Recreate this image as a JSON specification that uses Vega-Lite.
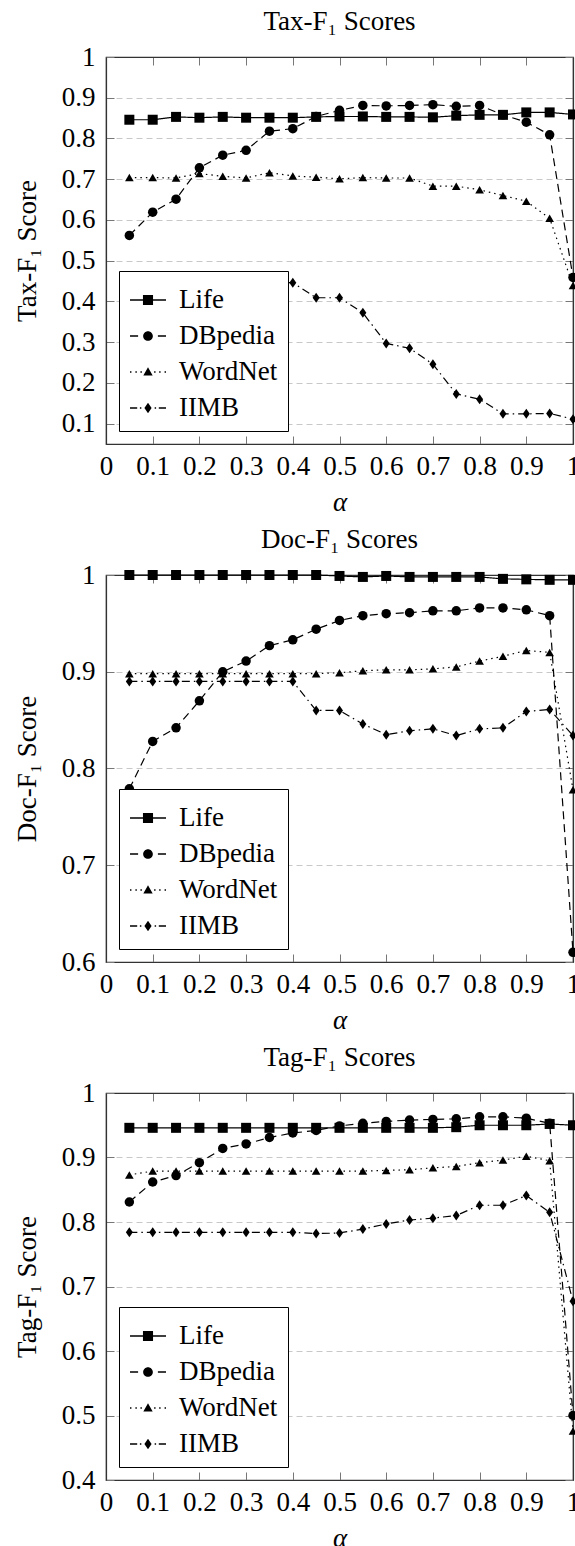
{
  "$schema": "https://vega.github.io/schema/vega-lite/v6.json",
  "padding": {"left": 12, "top": 7, "right": 0, "bottom": 0},
  "spacing": 9,
  "resolve": {"legend": {"strokeDash": "independent", "shape": "independent"}, "scale": {"x": "independent", "y": "independent", "strokeDash": "independent", "shape": "independent"}},
  "datasets": {
    "tax": [
      {"a":0.05,"s":"Life","v":0.846},{"a":0.1,"s":"Life","v":0.846},{"a":0.15,"s":"Life","v":0.853},{"a":0.2,"s":"Life","v":0.851},{"a":0.25,"s":"Life","v":0.853},{"a":0.3,"s":"Life","v":0.851},{"a":0.35,"s":"Life","v":0.851},{"a":0.4,"s":"Life","v":0.851},{"a":0.45,"s":"Life","v":0.853},{"a":0.5,"s":"Life","v":0.854},{"a":0.55,"s":"Life","v":0.854},{"a":0.6,"s":"Life","v":0.853},{"a":0.65,"s":"Life","v":0.853},{"a":0.7,"s":"Life","v":0.852},{"a":0.75,"s":"Life","v":0.856},{"a":0.8,"s":"Life","v":0.858},{"a":0.85,"s":"Life","v":0.858},{"a":0.9,"s":"Life","v":0.864},{"a":0.95,"s":"Life","v":0.864},{"a":1,"s":"Life","v":0.859},
      {"a":0.05,"s":"DBpedia","v":0.562},{"a":0.1,"s":"DBpedia","v":0.619},{"a":0.15,"s":"DBpedia","v":0.651},{"a":0.2,"s":"DBpedia","v":0.728},{"a":0.25,"s":"DBpedia","v":0.759},{"a":0.3,"s":"DBpedia","v":0.771},{"a":0.35,"s":"DBpedia","v":0.818},{"a":0.4,"s":"DBpedia","v":0.824},{"a":0.45,"s":"DBpedia","v":0.854},{"a":0.5,"s":"DBpedia","v":0.869},{"a":0.55,"s":"DBpedia","v":0.881},{"a":0.6,"s":"DBpedia","v":0.880},{"a":0.65,"s":"DBpedia","v":0.881},{"a":0.7,"s":"DBpedia","v":0.883},{"a":0.75,"s":"DBpedia","v":0.879},{"a":0.8,"s":"DBpedia","v":0.881},{"a":0.85,"s":"DBpedia","v":0.858},{"a":0.9,"s":"DBpedia","v":0.840},{"a":0.95,"s":"DBpedia","v":0.809},{"a":1,"s":"DBpedia","v":0.459},
      {"a":0.05,"s":"WordNet","v":0.704},{"a":0.1,"s":"WordNet","v":0.704},{"a":0.15,"s":"WordNet","v":0.703},{"a":0.2,"s":"WordNet","v":0.714},{"a":0.25,"s":"WordNet","v":0.707},{"a":0.3,"s":"WordNet","v":0.703},{"a":0.35,"s":"WordNet","v":0.716},{"a":0.4,"s":"WordNet","v":0.708},{"a":0.45,"s":"WordNet","v":0.705},{"a":0.5,"s":"WordNet","v":0.701},{"a":0.55,"s":"WordNet","v":0.704},{"a":0.6,"s":"WordNet","v":0.703},{"a":0.65,"s":"WordNet","v":0.703},{"a":0.7,"s":"WordNet","v":0.683},{"a":0.75,"s":"WordNet","v":0.683},{"a":0.8,"s":"WordNet","v":0.674},{"a":0.85,"s":"WordNet","v":0.660},{"a":0.9,"s":"WordNet","v":0.646},{"a":0.95,"s":"WordNet","v":0.604},{"a":1,"s":"WordNet","v":0.439},
      {"a":0.05,"s":"IIMB","v":0.446},{"a":0.1,"s":"IIMB","v":0.446},{"a":0.15,"s":"IIMB","v":0.446},{"a":0.2,"s":"IIMB","v":0.446},{"a":0.25,"s":"IIMB","v":0.446},{"a":0.3,"s":"IIMB","v":0.446},{"a":0.35,"s":"IIMB","v":0.446},{"a":0.4,"s":"IIMB","v":0.446},{"a":0.45,"s":"IIMB","v":0.409},{"a":0.5,"s":"IIMB","v":0.409},{"a":0.55,"s":"IIMB","v":0.372},{"a":0.6,"s":"IIMB","v":0.297},{"a":0.65,"s":"IIMB","v":0.285},{"a":0.7,"s":"IIMB","v":0.246},{"a":0.75,"s":"IIMB","v":0.173},{"a":0.8,"s":"IIMB","v":0.160},{"a":0.85,"s":"IIMB","v":0.124},{"a":0.9,"s":"IIMB","v":0.124},{"a":0.95,"s":"IIMB","v":0.125},{"a":1,"s":"IIMB","v":0.111}
    ],
    "doc": [
      {"a":0.05,"s":"Life","v":1.0},{"a":0.1,"s":"Life","v":1.0},{"a":0.15,"s":"Life","v":1.0},{"a":0.2,"s":"Life","v":1.0},{"a":0.25,"s":"Life","v":1.0},{"a":0.3,"s":"Life","v":1.0},{"a":0.35,"s":"Life","v":1.0},{"a":0.4,"s":"Life","v":1.0},{"a":0.45,"s":"Life","v":1.0},{"a":0.5,"s":"Life","v":0.999},{"a":0.55,"s":"Life","v":0.998},{"a":0.6,"s":"Life","v":0.999},{"a":0.65,"s":"Life","v":0.998},{"a":0.7,"s":"Life","v":0.998},{"a":0.75,"s":"Life","v":0.998},{"a":0.8,"s":"Life","v":0.998},{"a":0.85,"s":"Life","v":0.996},{"a":0.9,"s":"Life","v":0.9955},{"a":0.95,"s":"Life","v":0.995},{"a":1,"s":"Life","v":0.995},
      {"a":0.05,"s":"DBpedia","v":0.779},{"a":0.1,"s":"DBpedia","v":0.828},{"a":0.15,"s":"DBpedia","v":0.842},{"a":0.2,"s":"DBpedia","v":0.870},{"a":0.25,"s":"DBpedia","v":0.900},{"a":0.3,"s":"DBpedia","v":0.911},{"a":0.35,"s":"DBpedia","v":0.927},{"a":0.4,"s":"DBpedia","v":0.933},{"a":0.45,"s":"DBpedia","v":0.944},{"a":0.5,"s":"DBpedia","v":0.953},{"a":0.55,"s":"DBpedia","v":0.958},{"a":0.6,"s":"DBpedia","v":0.960},{"a":0.65,"s":"DBpedia","v":0.961},{"a":0.7,"s":"DBpedia","v":0.963},{"a":0.75,"s":"DBpedia","v":0.963},{"a":0.8,"s":"DBpedia","v":0.966},{"a":0.85,"s":"DBpedia","v":0.966},{"a":0.9,"s":"DBpedia","v":0.964},{"a":0.95,"s":"DBpedia","v":0.958},{"a":1,"s":"DBpedia","v":0.610},
      {"a":0.05,"s":"WordNet","v":0.898},{"a":0.1,"s":"WordNet","v":0.898},{"a":0.15,"s":"WordNet","v":0.898},{"a":0.2,"s":"WordNet","v":0.898},{"a":0.25,"s":"WordNet","v":0.898},{"a":0.3,"s":"WordNet","v":0.898},{"a":0.35,"s":"WordNet","v":0.898},{"a":0.4,"s":"WordNet","v":0.898},{"a":0.45,"s":"WordNet","v":0.898},{"a":0.5,"s":"WordNet","v":0.899},{"a":0.55,"s":"WordNet","v":0.901},{"a":0.6,"s":"WordNet","v":0.902},{"a":0.65,"s":"WordNet","v":0.902},{"a":0.7,"s":"WordNet","v":0.903},{"a":0.75,"s":"WordNet","v":0.905},{"a":0.8,"s":"WordNet","v":0.911},{"a":0.85,"s":"WordNet","v":0.916},{"a":0.9,"s":"WordNet","v":0.922},{"a":0.95,"s":"WordNet","v":0.920},{"a":1,"s":"WordNet","v":0.778},
      {"a":0.05,"s":"IIMB","v":0.890},{"a":0.1,"s":"IIMB","v":0.890},{"a":0.15,"s":"IIMB","v":0.890},{"a":0.2,"s":"IIMB","v":0.890},{"a":0.25,"s":"IIMB","v":0.890},{"a":0.3,"s":"IIMB","v":0.890},{"a":0.35,"s":"IIMB","v":0.890},{"a":0.4,"s":"IIMB","v":0.890},{"a":0.45,"s":"IIMB","v":0.860},{"a":0.5,"s":"IIMB","v":0.860},{"a":0.55,"s":"IIMB","v":0.846},{"a":0.6,"s":"IIMB","v":0.835},{"a":0.65,"s":"IIMB","v":0.839},{"a":0.7,"s":"IIMB","v":0.841},{"a":0.75,"s":"IIMB","v":0.834},{"a":0.8,"s":"IIMB","v":0.841},{"a":0.85,"s":"IIMB","v":0.842},{"a":0.9,"s":"IIMB","v":0.859},{"a":0.95,"s":"IIMB","v":0.861},{"a":1,"s":"IIMB","v":0.834}
    ],
    "tag": [
      {"a":0.05,"s":"Life","v":0.946},{"a":0.1,"s":"Life","v":0.946},{"a":0.15,"s":"Life","v":0.946},{"a":0.2,"s":"Life","v":0.946},{"a":0.25,"s":"Life","v":0.946},{"a":0.3,"s":"Life","v":0.946},{"a":0.35,"s":"Life","v":0.946},{"a":0.4,"s":"Life","v":0.946},{"a":0.45,"s":"Life","v":0.946},{"a":0.5,"s":"Life","v":0.946},{"a":0.55,"s":"Life","v":0.946},{"a":0.6,"s":"Life","v":0.946},{"a":0.65,"s":"Life","v":0.946},{"a":0.7,"s":"Life","v":0.946},{"a":0.75,"s":"Life","v":0.947},{"a":0.8,"s":"Life","v":0.950},{"a":0.85,"s":"Life","v":0.950},{"a":0.9,"s":"Life","v":0.950},{"a":0.95,"s":"Life","v":0.952},{"a":1,"s":"Life","v":0.950},
      {"a":0.05,"s":"DBpedia","v":0.831},{"a":0.1,"s":"DBpedia","v":0.862},{"a":0.15,"s":"DBpedia","v":0.872},{"a":0.2,"s":"DBpedia","v":0.892},{"a":0.25,"s":"DBpedia","v":0.914},{"a":0.3,"s":"DBpedia","v":0.921},{"a":0.35,"s":"DBpedia","v":0.931},{"a":0.4,"s":"DBpedia","v":0.938},{"a":0.45,"s":"DBpedia","v":0.942},{"a":0.5,"s":"DBpedia","v":0.949},{"a":0.55,"s":"DBpedia","v":0.953},{"a":0.6,"s":"DBpedia","v":0.956},{"a":0.65,"s":"DBpedia","v":0.958},{"a":0.7,"s":"DBpedia","v":0.959},{"a":0.75,"s":"DBpedia","v":0.960},{"a":0.8,"s":"DBpedia","v":0.963},{"a":0.85,"s":"DBpedia","v":0.963},{"a":0.9,"s":"DBpedia","v":0.961},{"a":0.95,"s":"DBpedia","v":0.953},{"a":1,"s":"DBpedia","v":0.500},
      {"a":0.05,"s":"WordNet","v":0.873},{"a":0.1,"s":"WordNet","v":0.879},{"a":0.15,"s":"WordNet","v":0.879},{"a":0.2,"s":"WordNet","v":0.879},{"a":0.25,"s":"WordNet","v":0.879},{"a":0.3,"s":"WordNet","v":0.879},{"a":0.35,"s":"WordNet","v":0.879},{"a":0.4,"s":"WordNet","v":0.879},{"a":0.45,"s":"WordNet","v":0.879},{"a":0.5,"s":"WordNet","v":0.879},{"a":0.55,"s":"WordNet","v":0.879},{"a":0.6,"s":"WordNet","v":0.880},{"a":0.65,"s":"WordNet","v":0.881},{"a":0.7,"s":"WordNet","v":0.884},{"a":0.75,"s":"WordNet","v":0.886},{"a":0.8,"s":"WordNet","v":0.892},{"a":0.85,"s":"WordNet","v":0.896},{"a":0.9,"s":"WordNet","v":0.902},{"a":0.95,"s":"WordNet","v":0.895},{"a":1,"s":"WordNet","v":0.476},
      {"a":0.05,"s":"IIMB","v":0.784},{"a":0.1,"s":"IIMB","v":0.784},{"a":0.15,"s":"IIMB","v":0.784},{"a":0.2,"s":"IIMB","v":0.784},{"a":0.25,"s":"IIMB","v":0.784},{"a":0.3,"s":"IIMB","v":0.784},{"a":0.35,"s":"IIMB","v":0.784},{"a":0.4,"s":"IIMB","v":0.784},{"a":0.45,"s":"IIMB","v":0.782},{"a":0.5,"s":"IIMB","v":0.783},{"a":0.55,"s":"IIMB","v":0.789},{"a":0.6,"s":"IIMB","v":0.797},{"a":0.65,"s":"IIMB","v":0.803},{"a":0.7,"s":"IIMB","v":0.806},{"a":0.75,"s":"IIMB","v":0.810},{"a":0.8,"s":"IIMB","v":0.826},{"a":0.85,"s":"IIMB","v":0.826},{"a":0.9,"s":"IIMB","v":0.841},{"a":0.95,"s":"IIMB","v":0.815},{"a":1,"s":"IIMB","v":0.677}
    ]
  },
  "vconcat": [
    {
      "title": "Tax-F₁ Scores",
      "width": 467, "height": 387,
      "data": {"name": "tax"},
      "layer": [
        {
          "mark": {"type": "line", "color": "black", "strokeWidth": 1.2},
          "encoding": {
            "x": {"field": "a", "type": "quantitative", "scale": {"domain": [0, 1], "nice": false}, "axis": {"orient": "bottom", "values": [0,0.1,0.2,0.3,0.4,0.5,0.6,0.7,0.8,0.9,1], "format": "~g", "title": "α", "titleFontStyle": "italic", "grid": false}},
            "y": {"field": "v", "type": "quantitative", "scale": {"domain": [0.05, 1], "nice": false, "zero": false}, "axis": {"orient": "left", "values": [0.1,0.2,0.3,0.4,0.5,0.6,0.7,0.8,0.9,1], "format": "~g", "title": "Tax-F₁ Score", "grid": true}},
            "strokeDash": {"field": "s", "type": "nominal", "scale": {"domain": ["Life","DBpedia","WordNet","IIMB"], "range": [[1,0],[8,5],[1.5,4],[8,4,1.5,4]]}, "legend": {"title": null}}
          }
        },
        {"transform": [{"filter": "datum.s === 'Life'"}], "mark": {"type": "point", "shape": "square", "filled": true, "color": "black", "opacity": 1, "size": 100},
          "encoding": {"x": {"field": "a", "type": "quantitative", "scale": {"domain": [0, 1], "nice": false}, "axis": null}, "y": {"field": "v", "type": "quantitative", "scale": {"domain": [0.05, 1], "nice": false, "zero": false}, "axis": null}}},
        {"transform": [{"filter": "datum.s === 'DBpedia'"}], "mark": {"type": "point", "shape": "circle", "filled": true, "color": "black", "opacity": 1, "size": 90},
          "encoding": {"x": {"field": "a", "type": "quantitative", "scale": {"domain": [0, 1], "nice": false}, "axis": null}, "y": {"field": "v", "type": "quantitative", "scale": {"domain": [0.05, 1], "nice": false, "zero": false}, "axis": null}}},
        {"transform": [{"filter": "datum.s === 'WordNet'"}], "mark": {"type": "point", "shape": "triangle-up", "filled": true, "color": "black", "opacity": 1, "size": 75},
          "encoding": {"x": {"field": "a", "type": "quantitative", "scale": {"domain": [0, 1], "nice": false}, "axis": null}, "y": {"field": "v", "type": "quantitative", "scale": {"domain": [0.05, 1], "nice": false, "zero": false}, "axis": null}}},
        {"transform": [{"filter": "datum.s === 'IIMB'"}], "mark": {"type": "point", "shape": "M0,-1L0.7,0L0,1L-0.7,0Z", "filled": true, "color": "black", "opacity": 1, "size": 100},
          "encoding": {"x": {"field": "a", "type": "quantitative", "scale": {"domain": [0, 1], "nice": false}, "axis": null}, "y": {"field": "v", "type": "quantitative", "scale": {"domain": [0.05, 1], "nice": false, "zero": false}, "axis": null}}},
        {
          "mark": {"type": "point", "filled": true, "fill": "black", "stroke": "black", "strokeWidth": 1.2, "opacity": 0, "size": 1296},
          "encoding": {
            "x": {"field": "a", "type": "quantitative", "scale": {"domain": [0, 1], "nice": false}, "axis": {"orient": "top", "values": [0,0.1,0.2,0.3,0.4,0.5,0.6,0.7,0.8,0.9,1], "labels": false, "title": null, "grid": false}},
            "y": {"field": "v", "type": "quantitative", "scale": {"domain": [0.05, 1], "nice": false, "zero": false}, "axis": {"orient": "right", "values": [0.1,0.2,0.3,0.4,0.5,0.6,0.7,0.8,0.9,1], "labels": false, "title": null, "grid": false}},
            "shape": {"field": "s", "type": "nominal", "scale": {"domain": ["Life","DBpedia","WordNet","IIMB"], "range": ["M-1,-0.035H1V0.035H-1ZM-0.28,-0.28H0.28V0.28H-0.28Z", "M-1,-0.035H-0.55V0.035H-1ZM0.55,-0.035H1V0.035H0.55ZM0.27,0A0.27,0.27,0,1,1,-0.27,0A0.27,0.27,0,1,1,0.27,0Z", "M-1,-0.04H-0.92V0.04H-1ZM-0.7,-0.04H-0.62V0.04H-0.7ZM-0.42,-0.04H-0.34V0.04H-0.42ZM0.34,-0.04H0.42V0.04H0.34ZM0.62,-0.04H0.7V0.04H0.62ZM0.92,-0.04H1V0.04H0.92ZM0,-0.26L0.26,0.19L-0.26,0.19Z", "M-1,-0.035H-0.6V0.035H-1ZM-0.45,-0.035H-0.37V0.035H-0.45ZM0.37,-0.035H0.45V0.035H0.37ZM0.6,-0.035H1V0.035H0.6ZM0,-0.29L0.2,0L0,0.29L-0.2,0Z"]}, "legend": {"title": null}}
          }
        }
      ],
      "resolve": {"axis": {"x": "independent", "y": "independent"}}
    },
    {
      "title": "Doc-F₁ Scores",
      "width": 467, "height": 387,
      "data": {"name": "doc"},
      "layer": [
        {
          "mark": {"type": "line", "color": "black", "strokeWidth": 1.2},
          "encoding": {
            "x": {"field": "a", "type": "quantitative", "scale": {"domain": [0, 1], "nice": false}, "axis": {"orient": "bottom", "values": [0,0.1,0.2,0.3,0.4,0.5,0.6,0.7,0.8,0.9,1], "format": "~g", "title": "α", "titleFontStyle": "italic", "grid": false}},
            "y": {"field": "v", "type": "quantitative", "scale": {"domain": [0.6, 1], "nice": false, "zero": false}, "axis": {"orient": "left", "values": [0.6,0.7,0.8,0.9,1], "format": "~g", "title": "Doc-F₁ Score", "grid": true}},
            "strokeDash": {"field": "s", "type": "nominal", "scale": {"domain": ["Life","DBpedia","WordNet","IIMB"], "range": [[1,0],[8,5],[1.5,4],[8,4,1.5,4]]}, "legend": {"title": null}}
          }
        },
        {"transform": [{"filter": "datum.s === 'Life'"}], "mark": {"type": "point", "shape": "square", "filled": true, "color": "black", "opacity": 1, "size": 100},
          "encoding": {"x": {"field": "a", "type": "quantitative", "scale": {"domain": [0, 1], "nice": false}, "axis": null}, "y": {"field": "v", "type": "quantitative", "scale": {"domain": [0.6, 1], "nice": false, "zero": false}, "axis": null}}},
        {"transform": [{"filter": "datum.s === 'DBpedia'"}], "mark": {"type": "point", "shape": "circle", "filled": true, "color": "black", "opacity": 1, "size": 90},
          "encoding": {"x": {"field": "a", "type": "quantitative", "scale": {"domain": [0, 1], "nice": false}, "axis": null}, "y": {"field": "v", "type": "quantitative", "scale": {"domain": [0.6, 1], "nice": false, "zero": false}, "axis": null}}},
        {"transform": [{"filter": "datum.s === 'WordNet'"}], "mark": {"type": "point", "shape": "triangle-up", "filled": true, "color": "black", "opacity": 1, "size": 75},
          "encoding": {"x": {"field": "a", "type": "quantitative", "scale": {"domain": [0, 1], "nice": false}, "axis": null}, "y": {"field": "v", "type": "quantitative", "scale": {"domain": [0.6, 1], "nice": false, "zero": false}, "axis": null}}},
        {"transform": [{"filter": "datum.s === 'IIMB'"}], "mark": {"type": "point", "shape": "M0,-1L0.7,0L0,1L-0.7,0Z", "filled": true, "color": "black", "opacity": 1, "size": 100},
          "encoding": {"x": {"field": "a", "type": "quantitative", "scale": {"domain": [0, 1], "nice": false}, "axis": null}, "y": {"field": "v", "type": "quantitative", "scale": {"domain": [0.6, 1], "nice": false, "zero": false}, "axis": null}}},
        {
          "mark": {"type": "point", "filled": true, "fill": "black", "stroke": "black", "strokeWidth": 1.2, "opacity": 0, "size": 1296},
          "encoding": {
            "x": {"field": "a", "type": "quantitative", "scale": {"domain": [0, 1], "nice": false}, "axis": {"orient": "top", "values": [0,0.1,0.2,0.3,0.4,0.5,0.6,0.7,0.8,0.9,1], "labels": false, "title": null, "grid": false}},
            "y": {"field": "v", "type": "quantitative", "scale": {"domain": [0.6, 1], "nice": false, "zero": false}, "axis": {"orient": "right", "values": [0.6,0.7,0.8,0.9,1], "labels": false, "title": null, "grid": false}},
            "shape": {"field": "s", "type": "nominal", "scale": {"domain": ["Life","DBpedia","WordNet","IIMB"], "range": ["M-1,-0.035H1V0.035H-1ZM-0.28,-0.28H0.28V0.28H-0.28Z", "M-1,-0.035H-0.55V0.035H-1ZM0.55,-0.035H1V0.035H0.55ZM0.27,0A0.27,0.27,0,1,1,-0.27,0A0.27,0.27,0,1,1,0.27,0Z", "M-1,-0.04H-0.92V0.04H-1ZM-0.7,-0.04H-0.62V0.04H-0.7ZM-0.42,-0.04H-0.34V0.04H-0.42ZM0.34,-0.04H0.42V0.04H0.34ZM0.62,-0.04H0.7V0.04H0.62ZM0.92,-0.04H1V0.04H0.92ZM0,-0.26L0.26,0.19L-0.26,0.19Z", "M-1,-0.035H-0.6V0.035H-1ZM-0.45,-0.035H-0.37V0.035H-0.45ZM0.37,-0.035H0.45V0.035H0.37ZM0.6,-0.035H1V0.035H0.6ZM0,-0.29L0.2,0L0,0.29L-0.2,0Z"]}, "legend": {"title": null}}
          }
        }
      ],
      "resolve": {"axis": {"x": "independent", "y": "independent"}}
    },
    {
      "title": "Tag-F₁ Scores",
      "width": 467, "height": 387,
      "data": {"name": "tag"},
      "layer": [
        {
          "mark": {"type": "line", "color": "black", "strokeWidth": 1.2},
          "encoding": {
            "x": {"field": "a", "type": "quantitative", "scale": {"domain": [0, 1], "nice": false}, "axis": {"orient": "bottom", "values": [0,0.1,0.2,0.3,0.4,0.5,0.6,0.7,0.8,0.9,1], "format": "~g", "title": "α", "titleFontStyle": "italic", "grid": false}},
            "y": {"field": "v", "type": "quantitative", "scale": {"domain": [0.4, 1], "nice": false, "zero": false}, "axis": {"orient": "left", "values": [0.4,0.5,0.6,0.7,0.8,0.9,1], "format": "~g", "title": "Tag-F₁ Score", "grid": true}},
            "strokeDash": {"field": "s", "type": "nominal", "scale": {"domain": ["Life","DBpedia","WordNet","IIMB"], "range": [[1,0],[8,5],[1.5,4],[8,4,1.5,4]]}, "legend": {"title": null}}
          }
        },
        {"transform": [{"filter": "datum.s === 'Life'"}], "mark": {"type": "point", "shape": "square", "filled": true, "color": "black", "opacity": 1, "size": 100},
          "encoding": {"x": {"field": "a", "type": "quantitative", "scale": {"domain": [0, 1], "nice": false}, "axis": null}, "y": {"field": "v", "type": "quantitative", "scale": {"domain": [0.4, 1], "nice": false, "zero": false}, "axis": null}}},
        {"transform": [{"filter": "datum.s === 'DBpedia'"}], "mark": {"type": "point", "shape": "circle", "filled": true, "color": "black", "opacity": 1, "size": 90},
          "encoding": {"x": {"field": "a", "type": "quantitative", "scale": {"domain": [0, 1], "nice": false}, "axis": null}, "y": {"field": "v", "type": "quantitative", "scale": {"domain": [0.4, 1], "nice": false, "zero": false}, "axis": null}}},
        {"transform": [{"filter": "datum.s === 'WordNet'"}], "mark": {"type": "point", "shape": "triangle-up", "filled": true, "color": "black", "opacity": 1, "size": 75},
          "encoding": {"x": {"field": "a", "type": "quantitative", "scale": {"domain": [0, 1], "nice": false}, "axis": null}, "y": {"field": "v", "type": "quantitative", "scale": {"domain": [0.4, 1], "nice": false, "zero": false}, "axis": null}}},
        {"transform": [{"filter": "datum.s === 'IIMB'"}], "mark": {"type": "point", "shape": "M0,-1L0.7,0L0,1L-0.7,0Z", "filled": true, "color": "black", "opacity": 1, "size": 100},
          "encoding": {"x": {"field": "a", "type": "quantitative", "scale": {"domain": [0, 1], "nice": false}, "axis": null}, "y": {"field": "v", "type": "quantitative", "scale": {"domain": [0.4, 1], "nice": false, "zero": false}, "axis": null}}},
        {
          "mark": {"type": "point", "filled": true, "fill": "black", "stroke": "black", "strokeWidth": 1.2, "opacity": 0, "size": 1296},
          "encoding": {
            "x": {"field": "a", "type": "quantitative", "scale": {"domain": [0, 1], "nice": false}, "axis": {"orient": "top", "values": [0,0.1,0.2,0.3,0.4,0.5,0.6,0.7,0.8,0.9,1], "labels": false, "title": null, "grid": false}},
            "y": {"field": "v", "type": "quantitative", "scale": {"domain": [0.4, 1], "nice": false, "zero": false}, "axis": {"orient": "right", "values": [0.4,0.5,0.6,0.7,0.8,0.9,1], "labels": false, "title": null, "grid": false}},
            "shape": {"field": "s", "type": "nominal", "scale": {"domain": ["Life","DBpedia","WordNet","IIMB"], "range": ["M-1,-0.035H1V0.035H-1ZM-0.28,-0.28H0.28V0.28H-0.28Z", "M-1,-0.035H-0.55V0.035H-1ZM0.55,-0.035H1V0.035H0.55ZM0.27,0A0.27,0.27,0,1,1,-0.27,0A0.27,0.27,0,1,1,0.27,0Z", "M-1,-0.04H-0.92V0.04H-1ZM-0.7,-0.04H-0.62V0.04H-0.7ZM-0.42,-0.04H-0.34V0.04H-0.42ZM0.34,-0.04H0.42V0.04H0.34ZM0.62,-0.04H0.7V0.04H0.62ZM0.92,-0.04H1V0.04H0.92ZM0,-0.26L0.26,0.19L-0.26,0.19Z", "M-1,-0.035H-0.6V0.035H-1ZM-0.45,-0.035H-0.37V0.035H-0.45ZM0.37,-0.035H0.45V0.035H0.37ZM0.6,-0.035H1V0.035H0.6ZM0,-0.29L0.2,0L0,0.29L-0.2,0Z"]}, "legend": {"title": null}}
          }
        }
      ],
      "resolve": {"axis": {"x": "independent", "y": "independent"}}
    }
  ],
  "config": {
    "font": "Liberation Serif",
    "view": {"stroke": "#333", "strokeWidth": 1.2},
    "axis": {"labelFont": "Liberation Serif", "labelFontSize": 27, "labelColor": "black", "titleFont": "Liberation Serif", "titleFontSize": 27, "titleFontWeight": "normal", "titleColor": "black", "domainColor": "#333", "domainWidth": 1.2, "tickColor": "#777", "tickSize": -8, "tickWidth": 1, "gridColor": "#c8c8c8", "gridDash": [6, 4], "gridWidth": 1, "labelFlush": false, "labelOverlap": false},
    "axisX": {"labelPadding": 17, "titlePadding": 10},
    "axisY": {"labelPadding": 19, "titlePadding": 20},
    "title": {"font": "Liberation Serif", "fontSize": 27, "fontWeight": "normal", "color": "black", "offset": 7},
    "legend": {"orient": "bottom-left", "offset": 13, "strokeColor": "black", "fillColor": "white", "padding": 10, "labelFont": "Liberation Serif", "labelFontSize": 27, "labelColor": "black", "labelOffset": 12, "rowPadding": 4, "symbolSize": 1296, "symbolStrokeWidth": 1.2, "symbolStrokeColor": "black", "symbolFillColor": "black", "symbolOpacity": 1}
  }
}
